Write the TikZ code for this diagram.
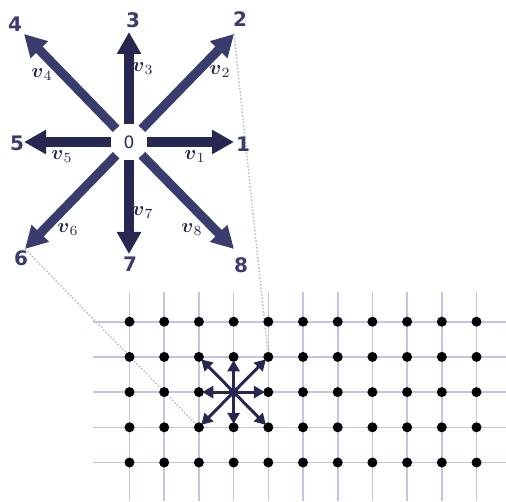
\documentclass[tikz,border=0pt]{standalone}
\usepackage{amsmath,amssymb}
\usepackage{fontspec}
\newfontfamily\digitfont{DejaVu Sans}
\usetikzlibrary{arrows.meta}

\definecolor{navy}{RGB}{38,40,82}
\definecolor{navylight}{RGB}{58,60,110}
\definecolor{gridblue}{RGB}{196,196,230}
\definecolor{zoomgrey}{RGB}{180,180,192}

\pgfdeclarelayer{background}
\pgfsetlayers{background,main}

\tikzset{
  bigarrow/.style={line width=4.6pt, -{Triangle[width=11.5pt,length=11pt]}},
  smallarrow/.style={navy, line width=1.5pt, -{Triangle[width=6pt,length=5.5pt]}, shorten >=-1pt},
  dirlabel/.style={text=navylight, font=\digitfont\bfseries\fontsize{10}{11}\selectfont},
  vlabel/.style={text=navy, font=\fontsize{10}{11}\selectfont},
  griddot/.style={circle, fill=black, inner sep=0pt, minimum size=5pt},
  gridlines/.style={draw=gridblue, line width=0.8pt},
  zoomdots/.style={draw=zoomgrey, densely dotted, line width=0.7pt}
}

\begin{document}
\begin{tikzpicture}[x=0.5pt,y=-0.5pt]
  \useasboundingbox (0,0) rectangle (506,501);

  \def\gx{34.7}
  \def\gy{35.2}

  % lattice
  \begin{pgfonlayer}{background}
    \foreach \i in {0,...,10}
      \draw[gridlines] (129.5+\i*\gx,292) -- (129.5+\i*\gx,501);
    \foreach \j in {0,...,4}
      \draw[gridlines] (93,321.7+\j*\gy) -- (506,321.7+\j*\gy);
  \end{pgfonlayer}

  \foreach \i in {0,...,10} {
    \foreach \j in {0,...,4} {
      \node[griddot] (g-\i-\j) at (129.5+\i*\gx,321.7+\j*\gy) {};
    }
  }

  % small star on the lattice
  \foreach \i/\j in {4/2,4/1,3/1,2/1,2/2,2/3,3/3,4/3}
    \draw[smallarrow] (g-3-2.center) -- (g-\i-\j);

  % big star
  \node[circle, minimum size=18pt, inner sep=0pt,
        font=\digitfont\fontsize{8.5}{9}\selectfont, text=navy] (o) at (129,142) {0};

  \foreach \n/\px/\py in {1/234/142, 2/234/34, 3/129/32, 4/24/34,
                          5/24/142, 6/25/249, 7/129/254, 8/234/249}
    \coordinate (t\n) at (\px,\py);

  % zoom lines
  \begin{pgfonlayer}{background}
    \draw[zoomdots] (t2) -- (g-4-1.center);
    \draw[zoomdots] (t6) -- (g-2-3.center);
  \end{pgfonlayer}

  \foreach \n in {2,4,6,8}
    \draw[bigarrow, navylight] (o) -- (t\n);
  \foreach \n in {1,3,5,7}
    \draw[bigarrow, navy] (o) -- (t\n);

  \foreach \n/\px/\py in {1/243/144, 2/240/19, 3/133/20, 4/15/24,
                          5/17/143, 6/21/258, 7/130/264, 8/241/265}
    \node[dirlabel] (l\n) at (\px,\py) {\n};

  \foreach \n/\px/\py in {1/195/157, 2/220/72, 3/143/69, 4/42/75,
                          5/62/157, 6/68/230, 7/143/213, 8/192/230}
    \node[vlabel] (v\n) at (\px,\py) {$\boldsymbol{v}_{\n}$};

\end{tikzpicture}
\end{document}
